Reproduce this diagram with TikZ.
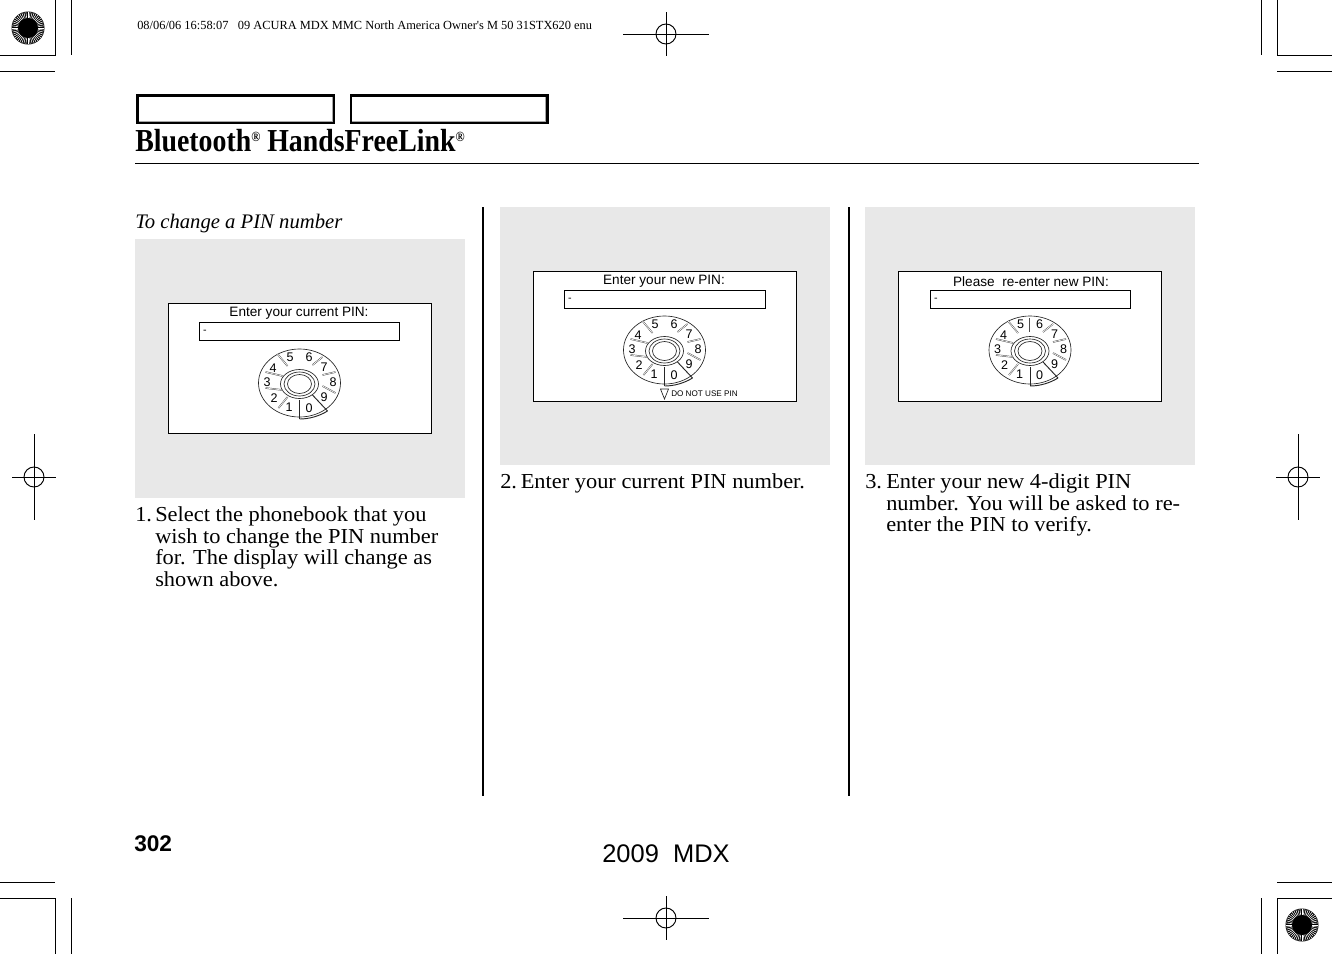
\documentclass[tikz,border=0pt]{standalone}
\usepackage{fontspec}
\setmainfont{Liberation Serif}
\newfontfamily\arialf{Liberation Sans}
\newfontfamily\bodyf[FakeStretch=1.05,Ligatures=TeX]{Liberation Serif}
\newfontfamily\titlef[FakeStretch=.87,Ligatures=TeX]{Liberation Serif}
\newcommand{\regmark}[3]{%
  \draw[cropline] (#1-#3,#2) -- (#1+#3,#2);
  \draw[cropline] (#1,#2-43) -- (#1,#2+43);
  \draw[cropline] (#1,#2) circle (10);
}
\newcommand{\regmarkh}[2]{%
  \draw[cropline] (#1-43,#2) -- (#1+43,#2);
  \draw[cropline] (#1,#2-22) -- (#1,#2+22);
  \draw[cropline] (#1,#2) circle (10);
}
\newcommand{\sunmark}[2]{%
  \fill[black] (#1,#2) circle (16.5);
  \foreach \a in {0,7.5,...,352.5}{
    \draw[white,line width=.42pt] ({#1+10*cos(\a)},{#2+10*sin(\a)}) -- ({#1+16*cos(\a)},{#2+16*sin(\a)});
  }
}
\newcommand{\dial}[2]{%
\begin{scope}[shift={(#1,#2)}]
  \draw[dialline] (0,0) ellipse (41 and 34);
  \begin{scope}[yshift=-.75pt]
  \draw[dialline] (0,0) ellipse (19 and 14.5);
  \draw[dialline] (0,0) ellipse (15.5 and 12);
  \draw[dialline] (0,0) ellipse (12 and 9.5);
  \end{scope}
  \foreach \xa/\ya/\xb/\yb in {0/-32/0/-18, 13/-18/23/-26, 23/-8/36/-11, 23/3/36/10, -12/-17/-22/-29, -17/-7/-34/-11, -17/7/-34/5, -12/14/-21/25}{
    \draw[spoke] (\xa,\ya) -- (\xb,\yb);
  }
  \draw[dialdark] (0,17) -- (0,36);
  \draw[dialdark] (13,12) -- (28,28);
  \draw[dialdark] (0,36) .. controls (10,36) and (20,33) .. (28,28);
  \foreach \d/\dx/\dy in {5/-9.5/-26,6/9.5/-26,7/24.5/-16,8/33.5/-1,9/24.5/14,0/9.5/25,1/-10.5/24,2/-25.5/15,3/-32.5/-1,4/-26.5/-15}{
    \node[digit] (d\d) at (\dx,\dy) {\d};
  }
\end{scope}
}
\tikzset{
  cropline/.style={black,line width=.7pt},
  dialline/.style={black!85,line width=.5pt},
  dialdark/.style={black!85,line width=.7pt},
  spoke/.style={black!70,line width=.35pt,double=white,double distance=.45pt},
  digit/.style={inner sep=0pt,font=\arialf\fontsize{9.4}{10}\selectfont},
  body/.style={anchor=north west,inner sep=0pt,align=left,font=\bodyf\fontsize{16}{16.3}\selectfont},
  lab/.style={inner sep=0pt,font=\arialf\fontsize{10.2}{11}\selectfont},
  panel/.style={fill=black!9},
  screen/.style={draw=black,line width=.6pt,fill=white},
  entry/.style={draw=black,line width=.6pt,fill=white},
}
\begin{document}
\begin{tikzpicture}[x=.75pt,y=-.75pt]
\useasboundingbox (0,0) rectangle (1332,954);
\fill[white] (0,0) rectangle (1332,954);
% crop marks
\draw[cropline] (55,0) -- (55,55) -- (0,55);
\draw[cropline] (71,0) -- (71,55);
\draw[cropline] (0,71) -- (55,71);
\draw[cropline] (1261,0) -- (1261,55);
\draw[cropline] (1277,0) -- (1277,55) -- (1332,55);
\draw[cropline] (1277,71) -- (1332,71);
\draw[cropline] (0,882) -- (55,882);
\draw[cropline] (0,898) -- (55,898) -- (55,954);
\draw[cropline] (71,898) -- (71,954);
\draw[cropline] (1277,882) -- (1332,882);
\draw[cropline] (1332,898) -- (1277,898) -- (1277,954);
\draw[cropline] (1261,898) -- (1261,954);
\sunmark{28}{28}
\sunmark{1302}{925}
\regmarkh{666}{34}
\regmarkh{666}{918}
\regmark{34}{477}{22}
\regmark{1298}{477}{22}
\node[anchor=west,inner sep=0pt,font=\fontsize{9.3}{10}\selectfont] (slug) at (137,25) {08/06/06 16:58:07\hspace{7pt}09 ACURA MDX MMC North America Owner\textquotesingle s M 50 31STX620 enu};
% header
\draw[black!35,line width=1pt] (138,122) -- (333,122) -- (333,96);
\draw[black!35,line width=1pt] (352,122) -- (546,122) -- (546,96);
\draw[black,line width=2pt] (137.5,95.5) rectangle (334,123);
\draw[black,line width=2pt] (351,95.5) rectangle (547.5,123);
\node[anchor=base west,inner sep=0pt,font=\titlef\bfseries\fontsize{24}{26}\selectfont] (title) at (135,151) {Bluetooth\raisebox{7pt}{\fontsize{10.5}{11}\selectfont\textregistered}\ HandsFreeLink\raisebox{7pt}{\fontsize{10.5}{11}\selectfont\textregistered}};
\draw[black,line width=.8pt] (135,163.5) -- (1199,163.5);
% column rules
\draw[black,line width=1.5pt] (483,207) -- (483,796);
\draw[black,line width=1.5pt] (849,207) -- (849,796);
% panels
\fill[panel] (135,239) rectangle (465,498);
\fill[panel] (500,207) rectangle (830,465);
\fill[panel] (865,207) rectangle (1195,465);
\draw[screen] (168,303.5) rectangle (431,433.5);
\draw[screen] (533,271.5) rectangle (796,401.5);
\draw[screen] (898,271.5) rectangle (1161.5,401.5);
\draw[entry] (199.5,322.5) rectangle (399.5,340.5);
\draw[entry] (564.5,290.5) rectangle (765.5,308);
\draw[entry] (930.5,290.5) rectangle (1130.5,308);
\node[lab] (l1) at (299,313) {Enter your current PIN:};
\node[lab] (l2) at (664,281.5) {Enter your new PIN:};
\node[lab] (l3) at (1031,282) {Please\ \ re-enter new PIN:};
\node[inner sep=0pt,font=\arialf\fontsize{8}{8}\selectfont] (c1) at (205,332) {-};
\node[inner sep=0pt,font=\arialf\fontsize{8}{8}\selectfont] (c2) at (570,300) {-};
\node[inner sep=0pt,font=\arialf\fontsize{8}{8}\selectfont] (c3) at (936,300) {-};
\dial{299.5}{383}
\dial{664.5}{350}
\dial{1030}{350}
\draw[black!85,line width=.5pt] (660.5,389) -- (668.5,389) -- (664.5,399) -- cycle;
\node[anchor=west,inner sep=0pt,font=\arialf\fontsize{6.1}{7}\selectfont] (dn) at (671,393.5) {DO NOT USE PIN};
% text
\node[anchor=base west,inner sep=0pt,font=\itshape\fontsize{15.5}{17}\selectfont] (sub) at (135,228) {To change a PIN number};
\node[body] (t1n) at (135,506) {\strut 1.};
\node[body] (t1) at (155,506) {\strut Select the phonebook that you\\wish to change the PIN number\\for. The display will change as\\shown above.};
\node[body] (t2n) at (500,473) {\strut 2.};
\node[body] (t2) at (520.5,473) {\strut Enter your current PIN number.};
\node[body] (t3n) at (865,473) {\strut 3.};
\node[body] (t3) at (886,473) {\strut Enter your new 4-digit PIN\\number. You will be asked to re-\\enter the PIN to verify.};
\node[anchor=base west,inner sep=0pt,font=\arialf\bfseries\fontsize{17}{18}\selectfont] (pg) at (134,851) {302};
\node[anchor=base,inner sep=0pt,font=\arialf\fontsize{19.1}{22}\selectfont] (md) at (666,862) {2009\ \ MDX};
\end{tikzpicture}
\end{document}
